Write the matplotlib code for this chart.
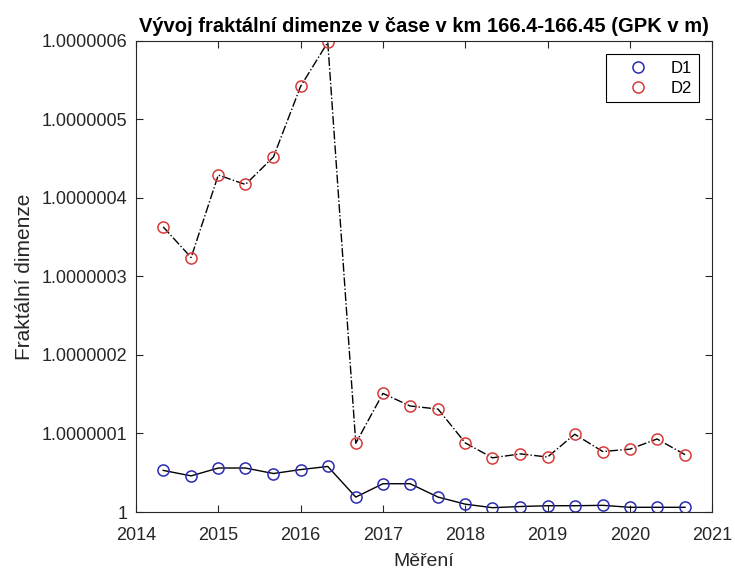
import matplotlib.pyplot as plt

plt.rcParams['font.family'] = ['Liberation Sans', 'DejaVu Sans']

# measurement dates (every 4 months)
years = [2014.33, 2014.67, 2015.0, 2015.33, 2015.67, 2016.0, 2016.33, 2016.67,
         2017.0, 2017.33, 2017.67, 2018.0, 2018.33, 2018.67, 2019.0, 2019.33,
         2019.67, 2020.0, 2020.33, 2020.67]

d1 = [1.000000053, 1.000000046, 1.000000056, 1.000000056, 1.000000049,
      1.000000054, 1.000000058, 1.000000019, 1.000000036, 1.000000036,
      1.000000019, 1.000000010, 1.0000000055, 1.000000007, 1.000000008,
      1.000000008, 1.0000000085, 1.000000006, 1.000000006, 1.000000006]

d2 = [1.000000363, 1.000000324, 1.000000429, 1.000000417, 1.000000452,
      1.000000542, 1.000000598, 1.0000000875, 1.000000151, 1.000000135,
      1.000000131, 1.000000088, 1.000000069, 1.000000074, 1.000000070,
      1.000000099, 1.000000077, 1.000000080, 1.000000093, 1.000000073]

yticks = [1.0, 1.0000001, 1.0000002, 1.0000003, 1.0000004, 1.0000005, 1.0000006]
ytick_labels = ['1', '1.0000001', '1.0000002', '1.0000003', '1.0000004',
                '1.0000005', '1.0000006']
xticks = [2014, 2015, 2016, 2017, 2018, 2019, 2020, 2021]

fig = plt.figure(figsize=(7.35, 5.74), dpi=100)
ax = fig.add_axes([0.185, 0.108, 0.784, 0.821])

ax.plot(years, d1, '-', color='black', lw=1)
ax.plot(years, d2, '-.', color='black', lw=1)
ax.plot(years, d1, 'o', mfc='none', mec='#2b2bb0', ms=8, mew=1.1, label='D1', ls='none')
ax.plot(years, d2, 'o', mfc='none', mec='#d83a3a', ms=8, mew=1.1, label='D2', ls='none')

ax.set_xlim(2014, 2021)
ax.set_ylim(1.0, 1.0000006)
ax.set_xticks(xticks)
ax.set_xticklabels([str(x) for x in xticks])
ax.set_yticks(yticks)
ax.set_yticklabels(ytick_labels)

ax.tick_params(direction='in', top=True, right=True, length=5, width=0.8,
               labelsize=13, colors='#262626')
ax.tick_params(axis='x', pad=10.5)
ax.tick_params(axis='y', pad=6)
for s in ax.spines.values():
    s.set_color('#262626')
    s.set_linewidth(0.8)

ax.set_title('Vývoj fraktální dimenze v čase v km 166.4-166.45 (GPK v m)',
             fontsize=14.5, fontweight='bold', pad=6)
ax.set_xlabel('Měření', fontsize=14, color='#262626', labelpad=7)
ax.set_ylabel('Fraktální dimenze', fontsize=15, color='#262626', labelpad=6)

leg = ax.legend(loc='upper right', fontsize=12, fancybox=False, framealpha=1,
                edgecolor='black', borderaxespad=0.8, handlelength=3.1,
                borderpad=0.4, labelspacing=0.3, handletextpad=0.4)
leg.get_frame().set_linewidth(0.8)

fig.savefig('out.png', dpi=100)
